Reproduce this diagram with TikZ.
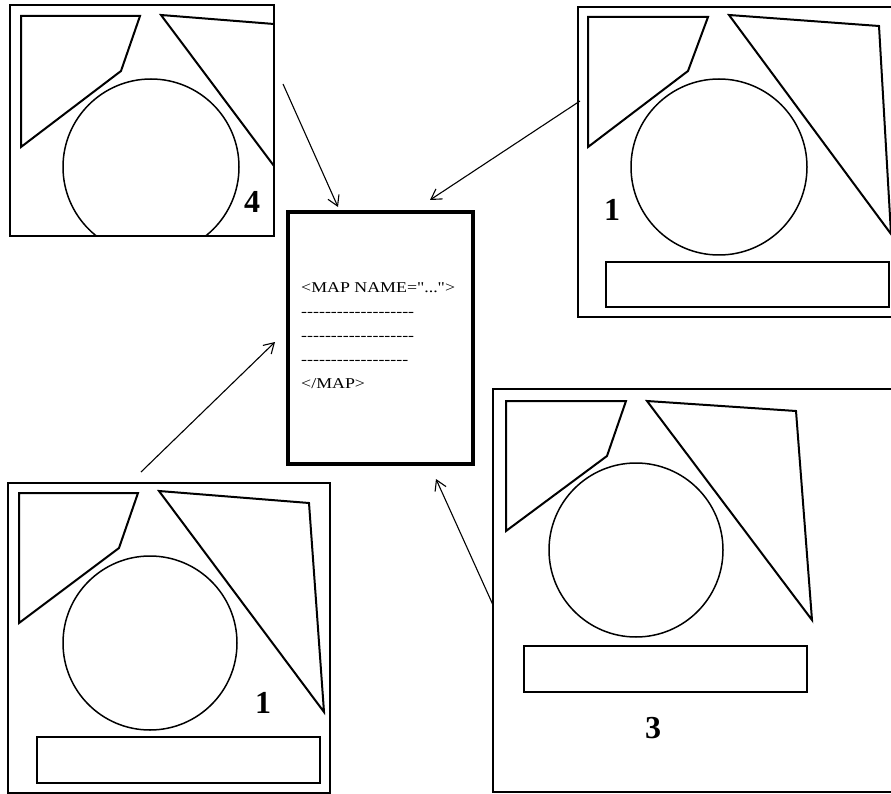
\documentclass[tikz,border=0pt]{standalone}
\usepackage{fontspec}
\setmainfont{Liberation Serif}
\newfontfamily\docfont{Liberation Serif}
\usetikzlibrary{arrows.meta}
\newcommand\hyq{-\kern0pt}
\begin{document}
\begin{tikzpicture}[x=1pt,y=-1pt,
  pframe/.style={draw=black,line width=1.6pt},
  poly/.style={draw=black,line width=2pt,line join=miter},
  circ/.style={draw=black,line width=1.5pt},
  barbox/.style={draw=black,line width=1.5pt},
  num/.style={font=\fontsize{32}{34}\selectfont\bfseries,inner sep=0pt},
  doctext/.style={font=\docfont\fontsize{15}{17}\selectfont,xscale=1.19,transform shape,inner sep=0pt,anchor=base west},
  arr/.style={draw=black,line width=1.1pt,-{Straight Barb[length=10pt,width=12pt,line width=1.1pt]}}]
\useasboundingbox (0,0) rectangle (891,794);
\fill[white] (0,0) rectangle (891,794);

% ---- top-left panel (4) ----
\begin{scope}
\clip (10,5) rectangle (274,236);
\draw[poly] (21,16)--(140,16)--(121,71)--(21,147)--cycle;
\draw[poly] (274,24)--(161,15)--(274,166);
\draw[circ] (151,167) circle[radius=88];
\end{scope}
\draw[draw=black,line width=2.6pt] (10,5) rectangle (274,236);
\node[num] (n4) at (252,202) {4};

% ---- top-right panel (1) ----
\draw[pframe] (578,7) rectangle (900,317);
\draw[poly] (588,17)--(708,17)--(688,71)--(588,147)--cycle;
\draw[poly] (729,15)--(879,26)--(891,234)--cycle;
\draw[circ] (719,167) circle[radius=88];
\draw[barbox] (606,262) rectangle (889,307);
\draw[black,line width=2.6pt] (606,262)--(889,262);
\node[num] (n1a) at (612,210) {1};

% ---- bottom-left panel (1) ----
\draw[pframe] (8,483) rectangle (330,793);
\draw[poly] (19,493)--(138,493)--(119,548)--(19,623)--cycle;
\draw[poly] (159,491)--(309,503)--(324,712)--cycle;
\draw[circ] (150,643) circle[radius=87];
\draw[barbox] (37,737) rectangle (320,783);
\draw[black,line width=2.6pt] (37,737)--(320,737);
\node[num] (n1b) at (263,703) {1};

% ---- bottom-right panel (3) ----
\draw[pframe] (493,389) rectangle (900,792);
\draw[poly] (506,401)--(626,401)--(607,456)--(506,531)--cycle;
\draw[poly] (647,401)--(796,411)--(812,620)--cycle;
\draw[circ] (636,550) circle[radius=87];
\draw[barbox] (524,646) rectangle (807,692);
\draw[black,line width=2.6pt] (524,646)--(807,646);
\node[num] (n3) at (653,728) {3};

% ---- document ----
\node[draw=black,line width=3.2pt,minimum width=185pt,minimum height=252pt,inner sep=0pt] (doc) at (380.5,338) {};
\node[doctext] (t1) at (301,292) {<MAP NAME="...">};
\node[doctext] (t2) at (301,316) {\hyq\hyq\hyq\hyq\hyq\hyq\hyq\hyq\hyq\hyq\hyq\hyq\hyq\hyq\hyq\hyq\hyq\hyq\hyq};
\node[doctext] (t3) at (301,340) {\hyq\hyq\hyq\hyq\hyq\hyq\hyq\hyq\hyq\hyq\hyq\hyq\hyq\hyq\hyq\hyq\hyq\hyq\hyq};
\node[doctext] (t4) at (301,364) {\hyq\hyq\hyq\hyq\hyq\hyq\hyq\hyq\hyq\hyq\hyq\hyq\hyq\hyq\hyq\hyq\hyq\hyq};
\node[doctext] (t5) at (301,388) {</MAP>};

% ---- arrows ----
\coordinate (s1) at (283,84);  \coordinate (e1) at (338,207);
\coordinate (s2) at (580,101); \coordinate (e2) at (430,200);
\coordinate (s3) at (141,472); \coordinate (e3) at (275,342);
\coordinate (s4) at (493,605); \coordinate (e4) at (436,479);
\draw[arr] (s1) -- (e1);
\draw[arr] (s2) -- (e2);
\draw[arr] (s3) -- (e3);
\draw[arr] (s4) -- (e4);
\end{tikzpicture}
\end{document}
